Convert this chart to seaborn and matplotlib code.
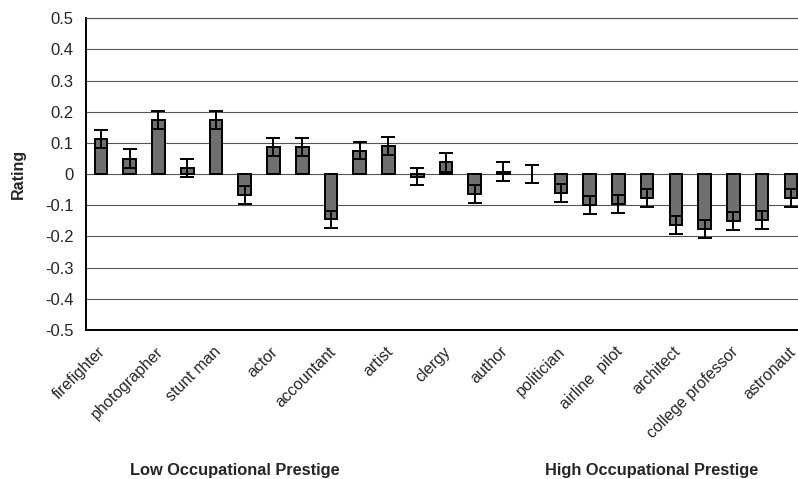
import matplotlib
matplotlib.use("Agg")
import matplotlib.pyplot as plt
import matplotlib.transforms as mtransforms
import seaborn as sns
import numpy as np
import pandas as pd

# Mean rating per occupation (25 occupations, every other one labelled)
ratings = [0.113, 0.050, 0.173, 0.021, 0.173, -0.066, 0.088, 0.088, -0.145,
           0.075, 0.090, -0.008, 0.038, -0.064, 0.008, 0.000, -0.062, -0.099,
           -0.096, -0.078, -0.163, -0.177, -0.150, -0.147, -0.078]
errors = [0.029, 0.030, 0.029, 0.029, 0.029, 0.029, 0.029, 0.029, 0.027,
          0.028, 0.030, 0.028, 0.031, 0.028, 0.030, 0.030, 0.029, 0.029,
          0.028, 0.029, 0.029, 0.029, 0.030, 0.029, 0.029]
tick_labels = ["firefighter", "photographer", "stunt man", "actor", "accountant",
               "artist", "clergy", "author", "politician", "airline  pilot",
               "architect", "college professor", "astronaut"]
y_ticks = [0.5, 0.4, 0.3, 0.2, 0.1, 0.0, -0.1, -0.2, -0.3, -0.4, -0.5]
y_tick_text = ["0.5", "0.4", "0.3", "0.2", "0.1", "0", "-0.1", "-0.2", "-0.3", "-0.4", "-0.5"]

df = pd.DataFrame({"pos": np.arange(len(ratings)), "rating": ratings, "err": errors})

sns.set_style("white")
plt.rcParams["font.family"] = ["Liberation Sans", "DejaVu Sans"]

fig = plt.figure(figsize=(7.98, 4.79), dpi=100)
ax = fig.add_axes([0.1078, 0.311, 0.902, 0.651])

sns.barplot(data=df, x="pos", y="rating", color="#6f6f6f", saturation=1,
            width=0.44, edgecolor="black", linewidth=1.4, errorbar=None, ax=ax, zorder=3)
for p in ax.patches:
    if abs(p.get_height()) < 1e-9:
        p.set_linewidth(0)

ax.errorbar(df["pos"], df["rating"], yerr=df["err"], fmt="none", ecolor="black",
            elinewidth=1.4, capsize=5, capthick=1.4, zorder=4)

ax.set_ylim(-0.5, 0.5)
ax.set_xlim(-0.52, 24.52)
ax.set_yticks(y_ticks)
ax.set_yticklabels(y_tick_text, fontsize=12)
ax.yaxis.grid(True, color="#555555", linewidth=0.8, zorder=0)
ax.set_axisbelow(True)
ax.tick_params(axis="y", length=0, pad=9)
ax.tick_params(axis="x", length=0, pad=10)

ax.set_xticks(np.arange(0, len(ratings), 2))
ax.set_xticklabels(tick_labels, rotation=45, ha="right", rotation_mode="anchor", fontsize=11.5)
shift = mtransforms.ScaledTranslation(-3 / 100, 0, fig.dpi_scale_trans)
for lab in ax.get_xticklabels():
    lab.set_transform(lab.get_transform() + shift)

for side in ["left", "bottom"]:
    ax.spines[side].set_color("black")
    ax.spines[side].set_linewidth(1.4)
ax.spines["top"].set_color("#555555")
ax.spines["top"].set_linewidth(0.8)
ax.spines["right"].set_visible(False)

ax.set_xlabel("")
ax.set_ylabel("Rating", fontsize=11.5, fontweight="bold", labelpad=14)

fig.text(235 / 798, 1 - 470 / 479, "Low Occupational Prestige", ha="center", va="center",
         fontsize=11.8, fontweight="bold")
fig.text(652 / 798, 1 - 470 / 479, "High Occupational Prestige", ha="center", va="center",
         fontsize=11.8, fontweight="bold")

fig.savefig("out.png", dpi=100)
